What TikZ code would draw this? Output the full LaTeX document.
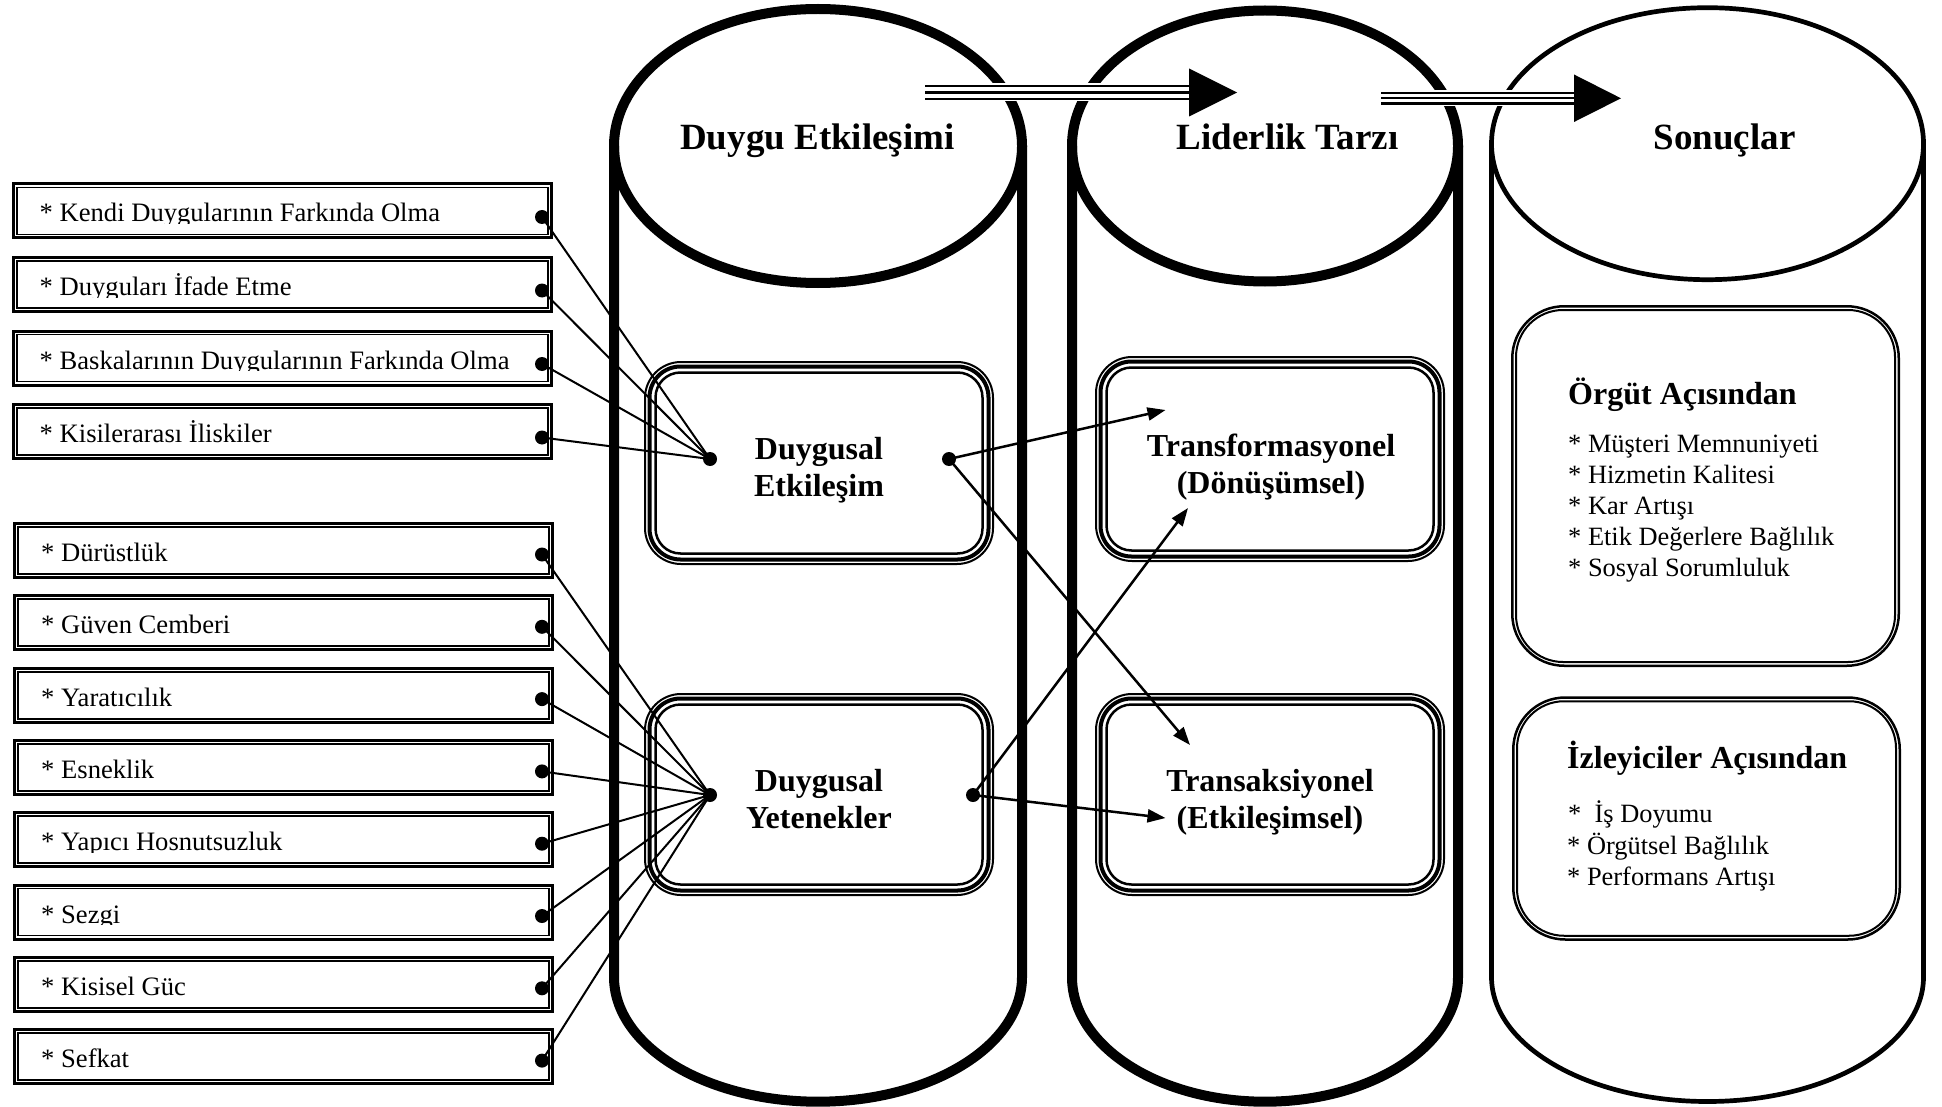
\documentclass[tikz,border=0pt]{standalone}
\usepackage{fontspec}
\setmainfont{Liberation Serif}
\usetikzlibrary{arrows.meta}

% rounded frame with three concentric outlines (thin, thick, thin)
\newcommand{\tripleframe}[5]{% name, centre x, centre y (downwards), width, height
  \node[draw, line width=2pt, rounded corners=36pt, minimum width=#4pt, minimum height=#5pt, inner sep=0pt] (#1) at (#2,-#3) {};
  \draw[line width=4pt, rounded corners=31pt] ([shift={(5.5,-5.5)}]#1.north west) rectangle ([shift={(-5.5,5.5)}]#1.south east);
  \draw[line width=2.5pt, rounded corners=25pt] ([shift={(11.5,-11.5)}]#1.north west) rectangle ([shift={(-11.5,11.5)}]#1.south east);
}
% rounded frame with two outlines
\newcommand{\doubleframe}[5]{%
  \node[draw, line width=2.5pt, rounded corners=52pt, minimum width=#4pt, minimum height=#5pt, inner sep=0pt] (#1) at (#2,-#3) {};
  \draw[line width=2pt, rounded corners=47pt] ([shift={(5,-5)}]#1.north west) rectangle ([shift={(-5,5)}]#1.south east);
}

\begin{document}
\begin{tikzpicture}[x=1pt,y=1pt,
  thickwall/.style={line width=10pt},
  thinwall/.style={line width=4.7pt},
  lbox/.style={draw, line width=3pt, minimum width=538pt, minimum height=54pt, inner sep=0pt},
  lbtext/.style={font=\fontsize{26.6pt}{30pt}\selectfont, anchor=base west, inner sep=0pt},
  colhead/.style={font=\fontsize{37pt}{40pt}\selectfont\bfseries, anchor=base, inner sep=0pt},
  boxhead/.style={font=\fontsize{32pt}{36pt}\selectfont\bfseries, anchor=base, inner sep=0pt},
  rhead/.style={font=\fontsize{32pt}{36pt}\selectfont\bfseries, anchor=base west, inner sep=0pt},
  ritem/.style={font=\fontsize{26.4pt}{30pt}\selectfont, anchor=base west, inner sep=0pt},
  dotn/.style={circle, fill=black, minimum size=14pt, inner sep=0pt},
  conn/.style={line width=2pt},
  arr/.style={line width=2.5pt, -{Triangle[length=18pt,width=13pt]}},
  shaft/.style={line width=2.4pt}
]
\useasboundingbox (0,0) rectangle (1942,-1107);

% ---- three cylinders ----
\draw[thickwall] (614,-146) -- (614,-977)
  arc[start angle=180, end angle=360, x radius=204pt, y radius=124.7pt] -- (1022,-146);
\draw[thickwall] (818,-146) ellipse [x radius=204pt, y radius=137pt];

\draw[thickwall] (1072,-146) -- (1072,-977)
  arc[start angle=180, end angle=360, x radius=193pt, y radius=124.7pt] -- (1458,-146);
\draw[thickwall] (1265,-146) ellipse [x radius=193pt, y radius=135.5pt];

\draw[thinwall] (1491.5,-143.7) -- (1491.5,-977)
  arc[start angle=180, end angle=360, x radius=216pt, y radius=124.5pt] -- (1923.5,-143.7);
\draw[thinwall] (1707.5,-143.7) ellipse [x radius=216pt, y radius=136pt];

% ---- block arrows between the cylinder tops ----
\fill[white] (925,-83.5) rectangle (1190,-101.5);
\foreach \sy in {86,92.5,99} \draw[shaft] (925,-\sy) -- (1190,-\sy);
\fill (1189,-68.5) -- (1237,-92.5) -- (1189,-116.5) -- cycle;

\fill[white] (1381,-90.5) rectangle (1575,-106);
\foreach \sy in {93,98.3,103.6} \draw[shaft] (1381,-\sy) -- (1575,-\sy);
\fill (1574,-74.5) -- (1621,-98.3) -- (1574,-122) -- cycle;

% ---- column titles ----
\node[colhead] (h1) at (817.5,-150) {Duygu Etkileşimi};
\node[colhead] (h2) at (1287.5,-150) {Liderlik Tarzı};
\node[colhead] (h3) at (1724.5,-150) {Sonuçlar};

% ---- inner frames ----
\tripleframe{de}{819}{463}{348}{202}
\tripleframe{dy}{819}{794.5}{348}{201}
\tripleframe{tf}{1270}{459}{348}{204}
\tripleframe{ta}{1270}{794.5}{348}{201}

\node[boxhead] (de1) at (819,-459.5) {Duygusal};
\node[boxhead] (de2) at (819,-496) {Etkileşim};
\node[boxhead] (dy1) at (819,-791) {Duygusal};
\node[boxhead] (dy2) at (819,-828) {Yetenekler};
\node[boxhead] (tf1) at (1271,-456) {Transformasyonel};
\node[boxhead] (tf2) at (1271,-493) {(Dönüşümsel)};
\node[boxhead] (ta1) at (1270,-791) {Transaksiyonel};
\node[boxhead] (ta2) at (1270,-828) {(Etkileşimsel)};

% ---- outcome frames ----
\doubleframe{org}{1705.5}{486}{386.5}{359.5}
\doubleframe{izl}{1706.5}{818.5}{386.5}{242}

\node[rhead] (orgH) at (1568,-404) {Örgüt Açısından};
\node[ritem] (o1) at (1568,-452) {* Müşteri Memnuniyeti};
\node[ritem] (o2) at (1568,-483) {* Hizmetin Kalitesi};
\node[ritem] (o3) at (1568,-514) {* Kar Artışı};
\node[ritem] (o4) at (1568,-545) {* Etik Değerlere Bağlılık};
\node[ritem] (o5) at (1568,-576) {* Sosyal Sorumluluk};

\node[rhead] (izlH) at (1567,-768) {İzleyiciler Açısından};
\node[ritem] (i1) at (1568,-822.5) {*~\ İş Doyumu};
\node[ritem] (i2) at (1567,-854) {* Örgütsel Bağlılık};
\node[ritem] (i3) at (1567,-885.5) {* Performans Artışı};

% ---- hub points ----
\node[dotn] (hubU) at (710,-459) {};
\node[dotn] (hubL) at (710,-795) {};
\node[dotn] (deR) at (949,-459) {};
\node[dotn] (dyR) at (973,-795) {};

% ---- left column of qualities ----
\foreach \yc/\lab/\idx in {211/Kendi Duygularının Farkında Olma/1,
                            284.5/Duyguları İfade Etme/2,
                            358/Baskalarının Duygularının Farkında Olma/3,
                            431.5/Kisilerarası İliskiler/4}{
  \node[lbox] (box\idx) at (282.5,-\yc) {};
  \draw[line width=1.8pt] ([shift={(5,-5)}]box\idx.north west) rectangle ([shift={(-5,5)}]box\idx.south east);
  \begin{scope}
    \clip (18,-\yc+24) rectangle (530,-\yc-12.5);
    \node[lbtext] (txt\idx) at (39.5,-\yc-11) {* \lab};
  \end{scope}
  \node[dotn] (pin\idx) at (542,-\yc-6) {};
  \draw[conn] (pin\idx.center) -- (hubU.center);
}

\foreach \yc/\lab/\idx in {550.5/Dürüstlük/5,
                            622.8/Güven Cemberi/6,
                            695.1/Yaratıcılık/7,
                            767.4/Esneklik/8,
                            839.7/Yapıcı Hosnutsuzluk/9,
                            912/Sezgi/10,
                            984.3/Kisisel Güc/11,
                            1056.6/Sefkat/12}{
  \node[lbox] (box\idx) at (283.5,-\yc) {};
  \draw[line width=1.8pt] ([shift={(5,-5)}]box\idx.north west) rectangle ([shift={(-5,5)}]box\idx.south east);
  \begin{scope}
    \clip (18,-\yc+24) rectangle (530,-\yc-12.5);
    \node[lbtext] (txt\idx) at (41,-\yc-11) {* \lab};
  \end{scope}
  \node[dotn] (pin\idx) at (542,-\yc-4) {};
  \draw[conn] (pin\idx.center) -- (hubL.center);
}

% ---- links between the inner frames ----
\coordinate (tfIn) at (1165.5,-410);
\coordinate (tfLow) at (1188,-508);
\coordinate (taTop) at (1190,-745);
\coordinate (taIn) at (1165.5,-818);
\draw[arr] (deR.center) -- (tfIn);
\draw[arr] (deR.center) -- (taTop);
\draw[arr] (dyR.center) -- (tfLow);
\draw[arr] (dyR.center) -- (taIn);
\end{tikzpicture}
\end{document}
